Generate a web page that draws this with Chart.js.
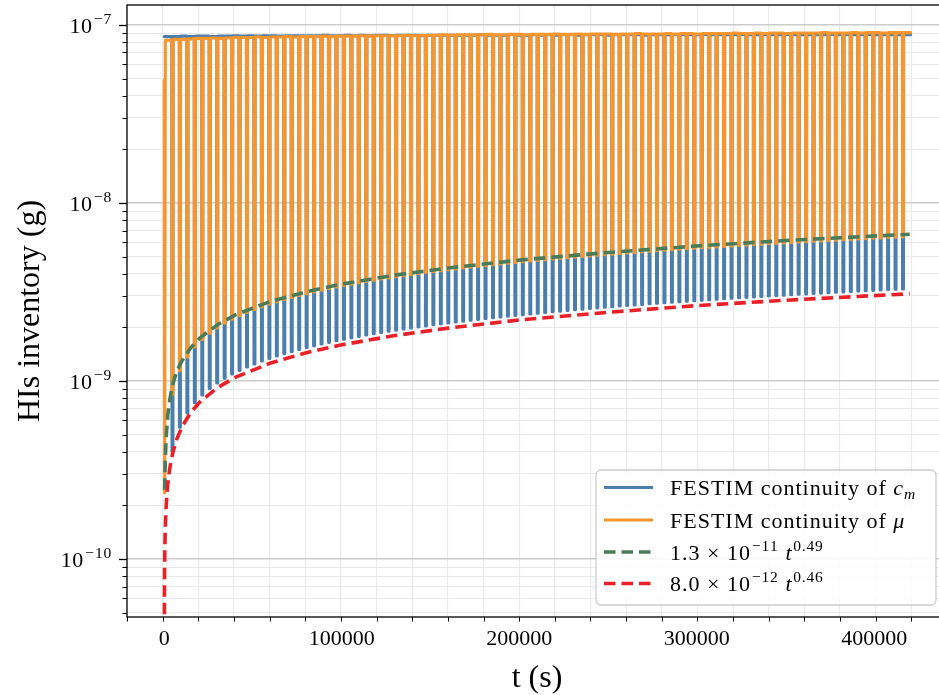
<!DOCTYPE html>
<html><head><meta charset="utf-8">
<script src="https://cdn.jsdelivr.net/npm/chart.js@4.4.0/dist/chart.umd.min.js"></script>
<style>html,body{margin:0;padding:0;background:#fff;overflow:hidden;}#wrap{width:950px;height:695px;}</style>
</head><body><div id="wrap"><canvas id="c" width="950" height="695" style="width:950px;height:695px"></canvas></div>
<script>
// ---------------- DATA ----------------
// times (s) at which each dwell dip starts
const dipTimes = [4300,8500,12700,16900,21100,25300,29500,33700,37900,42100,46300,50500,54700,58900,63100,67300,71500,75700,79900,84100,88300,92500,96700,100900,105100,109300,113500,117700,121900,126100,130300,134500,138700,142900,147100,151300,155500,159700,163900,168100,172300,176500,180700,184900,189100,193300,197500,201700,205900,210100,214300,218500,222700,226900,231100,235300,239500,243700,247900,252100,256300,260500,264700,268900,273100,277300,281500,285700,289900,294100,298300,302500,306700,310900,315100,319300,323500,327700,331900,336100,340300,344500,348700,352900,357100,361300,365500,369700,373900,378100,382300,386500,390700,394900,399100,403300,407500,411700,415900];
const dipDuration = 640;      // s, width of each dip
const dipEdge = 60;           // s, fall / rise time of each dip
const endTime = 420500;       // s, last sample

// FESTIM continuity of c_m : minimum inventory reached in each dip (g)
const cmLow = [4.02e-10,5.50e-10,6.61e-10,7.54e-10,8.35e-10,9.08e-10,9.74e-10,1.036e-9,1.093e-9,1.147e-9,
1.199e-9,1.247e-9,1.294e-9,1.339e-9,1.382e-9,1.424e-9,1.464e-9,1.503e-9,1.541e-9,1.577e-9,
1.613e-9,1.648e-9,1.682e-9,1.715e-9,1.748e-9,1.780e-9,1.811e-9,1.842e-9,1.872e-9,1.901e-9,
1.930e-9,1.958e-9,1.986e-9,2.013e-9,2.040e-9,2.067e-9,2.093e-9,2.118e-9,2.144e-9,2.169e-9,
2.193e-9,2.218e-9,2.242e-9,2.266e-9,2.289e-9,2.313e-9,2.336e-9,2.358e-9,2.381e-9,2.403e-9,
2.425e-9,2.447e-9,2.468e-9,2.490e-9,2.511e-9,2.532e-9,2.553e-9,2.574e-9,2.594e-9,2.614e-9,
2.634e-9,2.654e-9,2.673e-9,2.692e-9,2.712e-9,2.731e-9,2.750e-9,2.769e-9,2.788e-9,2.806e-9,
2.825e-9,2.842e-9,2.861e-9,2.878e-9,2.896e-9,2.913e-9,2.931e-9,2.948e-9,2.966e-9,2.983e-9,
3.000e-9,3.017e-9,3.034e-9,3.050e-9,3.067e-9,3.084e-9,3.100e-9,3.116e-9,3.132e-9,3.149e-9,
3.165e-9,3.181e-9,3.196e-9,3.212e-9,3.228e-9,3.244e-9,3.259e-9,3.275e-9,3.290e-9];
// plateau (high) value before dip 0, then after each dip (g)
const cmTop = [8.60e-8,8.60e-8,8.65e-8,8.60e-8,8.65e-8,8.65e-8,8.60e-8,8.65e-8,8.65e-8,8.70e-8,
8.65e-8,8.70e-8,8.65e-8,8.70e-8,8.70e-8,8.65e-8,8.70e-8,8.70e-8,8.70e-8,8.70e-8,
8.70e-8,8.75e-8,8.70e-8,8.70e-8,8.75e-8,8.70e-8,8.75e-8,8.70e-8,8.75e-8,8.75e-8,
8.70e-8,8.75e-8,8.75e-8,8.75e-8,8.70e-8,8.75e-8,8.75e-8,8.75e-8,8.75e-8,8.75e-8,
8.75e-8,8.75e-8,8.80e-8,8.75e-8,8.75e-8,8.75e-8,8.80e-8,8.75e-8,8.75e-8,8.80e-8,
8.75e-8,8.80e-8,8.75e-8,8.80e-8,8.80e-8,8.75e-8,8.80e-8,8.80e-8,8.80e-8,8.75e-8,
8.80e-8,8.80e-8,8.80e-8,8.80e-8,8.75e-8,8.80e-8,8.80e-8,8.80e-8,8.80e-8,8.80e-8,
8.80e-8,8.80e-8,8.85e-8,8.80e-8,8.80e-8,8.80e-8,8.80e-8,8.85e-8,8.80e-8,8.80e-8,
8.80e-8,8.80e-8,8.80e-8,8.85e-8,8.80e-8,8.80e-8,8.80e-8,8.80e-8,8.80e-8,8.85e-8,
8.80e-8,8.80e-8,8.80e-8,8.80e-8,8.85e-8,8.80e-8,8.80e-8,8.80e-8,8.80e-8,8.80e-8];
const cmStartT = [0];
const cmStartV = [8.60e-8];

// FESTIM continuity of mu
const muLow = [8.43e-10,1.142e-9,1.365e-9,1.551e-9,1.711e-9,1.855e-9,1.987e-9,2.108e-9,2.221e-9,2.327e-9,
2.428e-9,2.523e-9,2.614e-9,2.702e-9,2.786e-9,2.867e-9,2.945e-9,3.020e-9,3.093e-9,3.164e-9,
3.236e-9,3.303e-9,3.369e-9,3.434e-9,3.497e-9,3.558e-9,3.619e-9,3.677e-9,3.735e-9,3.792e-9,
3.847e-9,3.902e-9,3.956e-9,4.009e-9,4.061e-9,4.111e-9,4.162e-9,4.212e-9,4.261e-9,4.309e-9,
4.357e-9,4.403e-9,4.450e-9,4.496e-9,4.540e-9,4.585e-9,4.629e-9,4.673e-9,4.716e-9,4.758e-9,
4.800e-9,4.842e-9,4.883e-9,4.924e-9,4.964e-9,5.004e-9,5.044e-9,5.083e-9,5.122e-9,5.160e-9,
5.198e-9,5.236e-9,5.273e-9,5.311e-9,5.348e-9,5.383e-9,5.420e-9,5.456e-9,5.491e-9,5.527e-9,
5.561e-9,5.596e-9,5.631e-9,5.665e-9,5.699e-9,5.733e-9,5.766e-9,5.799e-9,5.832e-9,5.866e-9,
5.898e-9,5.931e-9,5.962e-9,5.994e-9,6.026e-9,6.058e-9,6.089e-9,6.120e-9,6.151e-9,6.180e-9,
6.212e-9,6.242e-9,6.272e-9,6.301e-9,6.332e-9,6.361e-9,6.390e-9,6.420e-9,6.450e-9];
const muTop = [8.20e-8,8.30e-8,8.30e-8,8.35e-8,8.40e-8,8.40e-8,8.45e-8,8.40e-8,8.45e-8,8.50e-8,
8.50e-8,8.50e-8,8.55e-8,8.50e-8,8.55e-8,8.55e-8,8.60e-8,8.55e-8,8.60e-8,8.60e-8,
8.60e-8,8.65e-8,8.60e-8,8.65e-8,8.65e-8,8.65e-8,8.70e-8,8.65e-8,8.70e-8,8.70e-8,
8.70e-8,8.70e-8,8.75e-8,8.70e-8,8.75e-8,8.75e-8,8.75e-8,8.80e-8,8.75e-8,8.80e-8,
8.80e-8,8.80e-8,8.80e-8,8.85e-8,8.80e-8,8.80e-8,8.85e-8,8.85e-8,8.80e-8,8.85e-8,
8.85e-8,8.85e-8,8.90e-8,8.85e-8,8.85e-8,8.90e-8,8.85e-8,8.90e-8,8.90e-8,8.90e-8,
8.85e-8,8.90e-8,8.90e-8,8.95e-8,8.90e-8,8.90e-8,8.90e-8,8.95e-8,8.90e-8,8.95e-8,
8.95e-8,8.90e-8,8.95e-8,8.95e-8,8.95e-8,8.95e-8,9.00e-8,8.95e-8,8.95e-8,9.00e-8,
8.95e-8,9.00e-8,9.00e-8,8.95e-8,9.00e-8,9.00e-8,9.00e-8,9.00e-8,9.05e-8,9.00e-8,
9.00e-8,9.00e-8,9.05e-8,9.00e-8,9.05e-8,9.05e-8,9.00e-8,9.05e-8,9.05e-8,9.05e-8];
const muStartT = [0, 250, 600];
const muStartV = [4.90e-8, 2.35e-10, 8.20e-8];

// fit 1 : 1.3e-11 t^0.49 (as drawn)
const fit1T = [250,500,1000,2000,3000,4000,5000,7000,10000,15000,20000,30000,40000,60000,80000,100000,130000,160000,200000,250000,300000,350000,420000];
const fit1V = [2.45e-10,3.40e-10,4.70e-10,6.45e-10,7.75e-10,8.80e-10,9.75e-10,1.13e-9,1.30e-9,1.54e-9,1.74e-9,2.07e-9,2.35e-9,2.80e-9,3.17e-9,3.50e-9,3.93e-9,4.31e-9,4.77e-9,5.27e-9,5.73e-9,6.15e-9,6.67e-9];
// fit 2 : 8.0e-12 t^0.46 (as drawn)
const fit2T = [1,100,300,500,700,1000,1500,2000,3000,4000,5000,7000,10000,15000,20000,30000,40000,60000,80000,100000,130000,160000,200000,250000,300000,350000,420000];
const fit2V = [8.0e-12,6.65e-11,1.10e-10,1.395e-10,1.63e-10,1.92e-10,2.31e-10,2.64e-10,3.18e-10,3.63e-10,4.02e-10,4.70e-10,5.53e-10,6.67e-10,7.61e-10,9.17e-10,1.047e-9,1.262e-9,1.44e-9,1.596e-9,1.80e-9,1.98e-9,2.20e-9,2.43e-9,2.65e-9,2.84e-9,3.09e-9];

// axes
const xMin = -21000, xMax = 441000, xMinorStep = 20000, xMajorStep = 100000;
const xTickLabels = ['0','100000','200000','300000','400000'];
const xTickValues = [0,100000,200000,300000,400000];
const yMin = 4.72e-11, yMax = 1.294e-7;
const yTickExponents = [-10,-9,-8,-7];
const xTitle = 't (s)';
const yTitle = 'HIs inventory (g)';
const legendLabels = ['FESTIM continuity of ', 'FESTIM continuity of ', '1.3 \u00d7 10', '8.0 \u00d7 10'];

// ---------------- build ----------------
function buildSeries(startT, startV, tops, lows) {
  const pts = startT.map((t, i) => ({x: t, y: startV[i]}));
  for (let i = 0; i < dipTimes.length; i++) {
    pts.push({x: dipTimes[i], y: tops[i]});
    pts.push({x: dipTimes[i] + dipEdge, y: lows[i]});
    pts.push({x: dipTimes[i] + dipDuration - dipEdge, y: lows[i]});
    pts.push({x: dipTimes[i] + dipDuration, y: tops[i + 1]});
  }
  pts.push({x: endTime, y: tops[tops.length - 1]});
  return pts;
}
const pairs = (T, V) => T.map((t, i) => ({x: t, y: V[i]}));

const C_BLUE = '#4b7eab', C_ORANGE = '#f7962f', C_GREEN = '#4a7c59', C_RED = '#ea2028';
const SERIF = '"Liberation Serif","Times New Roman",serif';
const fnt = (s, it) => (it ? 'italic ' : '') + s + 'px ' + SERIF;

const isMajorY = v => Math.abs(Math.log10(v) - Math.round(Math.log10(v))) < 1e-6;
const isMajorX = v => Math.abs(v % xMajorStep) < 1e-6;

function runW(ctx, r) {
  ctx.font = fnt(r.s, r.it);
  const ls = r.ls || 0;
  if (!ls) return ctx.measureText(r.t).width;
  let w = 0;
  for (const ch of r.t) w += ctx.measureText(ch).width + ls;
  return w;
}
function runs(ctx, x, y, list, align) {
  let w = 0;
  for (const r of list) w += (r.g || 0) + runW(ctx, r);
  let cx = align === 'right' ? x - w : (align === 'center' ? x - w / 2 : x);
  for (const r of list) {
    ctx.font = fnt(r.s, r.it);
    cx += (r.g || 0);
    const ls = r.ls || 0;
    if (!ls) { ctx.fillText(r.t, cx, y + (r.dy || 0)); cx += ctx.measureText(r.t).width; }
    else for (const ch of r.t) { ctx.fillText(ch, cx, y + (r.dy || 0)); cx += ctx.measureText(ch).width + ls; }
  }
}

const decor = {
  id: 'decor',
  afterDraw(chart) {
    const ctx = chart.ctx, a = chart.chartArea;
    const xs = chart.scales.x, ys = chart.scales.y;
    ctx.save();
    ctx.fillStyle = '#000'; ctx.strokeStyle = '#000';
    ctx.textBaseline = 'alphabetic'; ctx.textAlign = 'left';
    ctx.lineWidth = 1.3;
    ctx.strokeRect(a.left, a.top, a.right - a.left, a.bottom - a.top);
    for (const t of xs.ticks) {
      const px = Math.round(xs.getPixelForValue(t.value)) + 0.5;
      const maj = isMajorX(t.value);
      ctx.lineWidth = maj ? 1.3 : 1;
      ctx.beginPath(); ctx.moveTo(px, a.bottom); ctx.lineTo(px, a.bottom + (maj ? 8 : 4.5)); ctx.stroke();
    }
    for (const t of ys.ticks) {
      const py = Math.round(ys.getPixelForValue(t.value)) + 0.5;
      const maj = isMajorY(t.value);
      ctx.lineWidth = maj ? 1.3 : 1;
      ctx.beginPath(); ctx.moveTo(a.left, py); ctx.lineTo(a.left - (maj ? 8 : 4.5), py); ctx.stroke();
    }
    xTickValues.forEach((v, i) => {
      runs(ctx, xs.getPixelForValue(v), a.bottom + 28, [{t: xTickLabels[i], s: 22}], 'center');
    });
    yTickExponents.forEach(e => {
      const py = ys.getPixelForValue(Math.pow(10, e));
      runs(ctx, a.left - 15, py + 8, [{t: '10', s: 22, ls: 0.5}, {t: '\u2212' + Math.abs(e), s: 15.5, dy: -8.5, g: 1.5, ls: 0.8}], 'right');
    });
    runs(ctx, (a.left + a.right) / 2, 687, [{t: xTitle, s: 32}], 'center');
    ctx.save();
    ctx.translate(39, (a.top + a.bottom) / 2);
    ctx.rotate(-Math.PI / 2);
    runs(ctx, 0, 0, [{t: yTitle, s: 32}], 'center');
    ctx.restore();
    // legend
    const lx = 596, ly = 470, lw = 340, lh = 135;
    ctx.beginPath();
    ctx.roundRect(lx, ly, lw, lh, 5);
    ctx.fillStyle = 'rgba(255,255,255,0.85)'; ctx.fill();
    ctx.lineWidth = 1.3; ctx.strokeStyle = '#cccccc'; ctx.stroke();
    const L = 1;
    const rows = [
      {c: C_BLUE, dash: [], w: 3.2, r: [{t: legendLabels[0], s: 22, ls: L}, {t: 'c', s: 22, it: true, ls: L}, {t: 'm', s: 15.5, it: true, dy: 4, ls: L}]},
      {c: C_ORANGE, dash: [], w: 3.2, r: [{t: legendLabels[1], s: 22, ls: L}, {t: '\u03bc', s: 22, it: true, ls: L}]},
      {c: C_GREEN, dash: [11.5, 6], w: 3.6, r: [{t: legendLabels[2], s: 22, ls: L}, {t: '\u221211', s: 15.5, dy: -9, g: 1, ls: 0.8}, {t: 't', s: 22, it: true, g: 7}, {t: '0.49', s: 15.5, dy: -9, g: 1.5, ls: 0.8}]},
      {c: C_RED, dash: [11.5, 6], w: 3.6, r: [{t: legendLabels[3], s: 22, ls: L}, {t: '\u221212', s: 15.5, dy: -9, g: 1, ls: 0.8}, {t: 't', s: 22, it: true, g: 7}, {t: '0.46', s: 15.5, dy: -9, g: 1.5, ls: 0.8}]}
    ];
    const rowY = [487.5, 520, 552, 583.5];
    rows.forEach((row, i) => {
      const cy = rowY[i];
      ctx.strokeStyle = row.c; ctx.lineWidth = row.w; ctx.setLineDash(row.dash); ctx.lineCap = 'butt';
      ctx.beginPath(); ctx.moveTo(604, cy); ctx.lineTo(653, cy); ctx.stroke();
      ctx.setLineDash([]);
      ctx.fillStyle = '#000';
      runs(ctx, 670, cy + 7.5, row.r, 'left');
    });
    ctx.restore();
  }
};

const gridColor = maj => maj ? '#cbcbcb' : '#e9e9e9';

new Chart(document.getElementById('c'), {
  type: 'line',
  data: {
    datasets: [
      {label: 'fit2', data: pairs(fit2T, fit2V), borderColor: C_RED, borderWidth: 3.6, borderDash: [11.5, 6], order: 0},
      {label: 'fit1', data: pairs(fit1T, fit1V), borderColor: C_GREEN, borderWidth: 3.6, borderDash: [11.5, 6], order: 1},
      {label: 'mu', data: buildSeries(muStartT, muStartV, muTop, muLow), borderColor: C_ORANGE, borderWidth: 3.1, borderJoinStyle: 'round', borderCapStyle: 'round', tension: 0.000001, order: 2},
      {label: 'cm', data: buildSeries(cmStartT, cmStartV, cmTop, cmLow), borderColor: C_BLUE, borderWidth: 3.1, borderJoinStyle: 'round', borderCapStyle: 'round', tension: 0.000001, order: 3}
    ]
  },
  options: {
    responsive: false, animation: false, devicePixelRatio: 1, events: [],
    parsing: false,
    layout: {padding: {top: 5, right: 3, left: 0, bottom: 0}},
    elements: {point: {radius: 0}, line: {tension: 0, fill: false}},
    plugins: {legend: {display: false}, tooltip: {enabled: false}},
    scales: {
      x: {
        type: 'linear', min: xMin, max: xMax,
        afterFit: s => { s.height = 78; },
        ticks: {display: false, stepSize: xMinorStep, includeBounds: false},
        grid: {drawTicks: false, color: c => gridColor(c.tick && isMajorX(c.tick.value)), lineWidth: c => (c.tick && isMajorX(c.tick.value)) ? 1.4 : 1.1},
        border: {display: false}
      },
      y: {
        type: 'logarithmic', min: yMin, max: yMax,
        afterFit: s => { s.width = 127; },
        afterBuildTicks: s => {
          const t = [];
          for (let e = -11; e <= -7; e++) for (let m = 1; m <= 9; m++) {
            const v = m * Math.pow(10, e);
            if (v >= yMin && v <= yMax) t.push({value: v});
          }
          s.ticks = t;
        },
        ticks: {display: false},
        grid: {drawTicks: false, color: c => gridColor(c.tick && isMajorY(c.tick.value)), lineWidth: c => (c.tick && isMajorY(c.tick.value)) ? 1.4 : 1.1},
        border: {display: false}
      }
    }
  },
  plugins: [decor]
});
</script></body></html>
